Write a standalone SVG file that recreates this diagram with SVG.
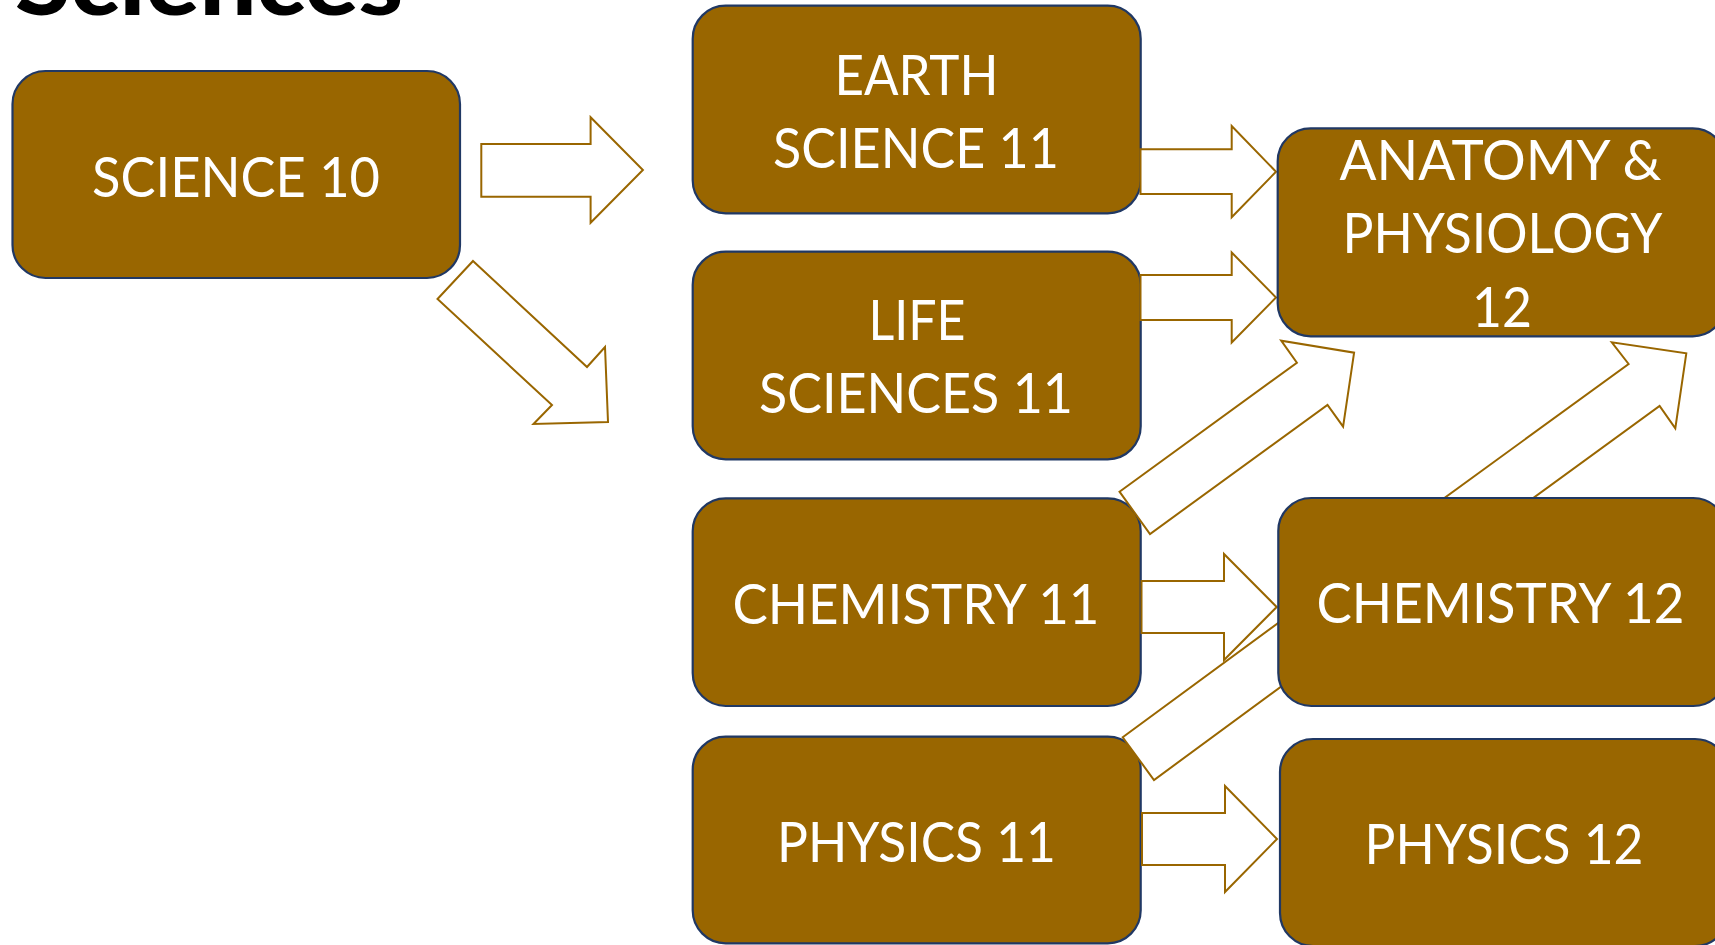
<svg xmlns="http://www.w3.org/2000/svg" width="1715" height="945" viewBox="0 0 1715 945">
<style>
.box{fill:#996600;stroke:#203864;stroke-width:2.2}
.lbl{fill:#ffffff;font-family:Lato,"Open Sans","Liberation Sans",sans-serif;font-size:56px;text-anchor:middle}
.arr{fill:#ffffff;stroke:#996600;stroke-width:2;stroke-linejoin:miter}
.title{fill:#000000;font-family:Lato,"Liberation Sans",sans-serif;font-weight:900;font-size:92px}
</style>
<rect width="1715" height="945" fill="#ffffff"/>
<text class="title" x="15" y="14.5" textLength="388" lengthAdjust="spacingAndGlyphs">Sciences</text>

<g id="science10">
<rect class="box" x="12.5" y="71" width="447.5" height="207" rx="33" ry="33"/>
<text class="lbl" x="236" y="196.7" textLength="288" lengthAdjust="spacingAndGlyphs">SCIENCE 10</text>
</g>
<g id="earth11">
<rect class="box" x="692.7" y="5.7" width="448" height="207.6" rx="33" ry="33"/>
<text class="lbl" x="916.5" y="95" textLength="164" lengthAdjust="spacingAndGlyphs">EARTH</text>
<text class="lbl" x="916" y="168" textLength="286" lengthAdjust="spacingAndGlyphs">SCIENCE 11</text>
</g>
<g id="life11">
<rect class="box" x="692.7" y="251.7" width="448" height="207.6" rx="33" ry="33"/>
<text class="lbl" x="917" y="340" textLength="97" lengthAdjust="spacingAndGlyphs">LIFE</text>
<text class="lbl" x="916" y="413.3" textLength="314" lengthAdjust="spacingAndGlyphs">SCIENCES 11</text>
</g>
<g id="chemistry11">
<rect class="box" x="692.7" y="498.3" width="448" height="207.7" rx="33" ry="33"/>
<text class="lbl" x="916" y="624" textLength="367" lengthAdjust="spacingAndGlyphs">CHEMISTRY 11</text>
</g>
<g id="physics11">
<rect class="box" x="692.7" y="736.7" width="448" height="206.6" rx="33" ry="33"/>
<text class="lbl" x="916.5" y="861.7" textLength="279" lengthAdjust="spacingAndGlyphs">PHYSICS 11</text>
</g>

<g id="connectors">
<polygon class="arr" points="481.3,144 590.6,144 590.6,117.3 642.9,170 590.6,222.7 590.6,196.7 481.3,196.7"/>
<polygon class="arr" points="473,261 587,367 605,347 608,422 533.5,424 552,405 437.5,299"/>
<polygon class="arr" points="1140.5,149.3 1231.7,149.3 1231.7,126 1276,171.7 1231.7,217.3 1231.7,194 1140.5,194"/>
<polygon class="arr" points="1140.5,275 1231.7,275 1231.7,252.5 1276,297.5 1231.7,342.5 1231.7,320 1140.5,320"/>
<polygon class="arr" points="1119.5,491.7 1296.9,362.7 1281.2,340.7 1354.1,352.7 1343.1,426.7 1327.5,405 1150,534"/>
<polygon class="arr" points="1400.4,530 1628.6,364 1611.8,342.3 1686.3,353.3 1675.3,428.3 1659.6,406 1431.4,572"/>
<polygon class="arr" points="1141.5,581 1224,581 1224,554 1276.7,607 1224,660 1224,633 1141.5,633"/>
<polygon class="arr" points="1122.7,737.3 1299.2,607.6 1283.5,586.2 1356.8,598.2 1346.2,671.8 1330.5,650.4 1154,780"/>
<polygon class="arr" points="1142,813 1225,813 1225,786 1277,839 1225,892 1225,865 1142,865"/>
</g>

<g id="anatomy12">
<rect class="box" x="1277.7" y="128.3" width="448" height="208" rx="33" ry="33"/>
<text class="lbl" x="1500.5" y="180" textLength="322" lengthAdjust="spacingAndGlyphs">ANATOMY &amp;</text>
<text class="lbl" x="1502.5" y="253.3" textLength="320" lengthAdjust="spacingAndGlyphs">PHYSIOLOGY</text>
<text class="lbl" x="1502" y="326.7" textLength="60" lengthAdjust="spacingAndGlyphs">12</text>
</g>
<g id="chemistry12">
<rect class="box" x="1278.3" y="498" width="448" height="208" rx="33" ry="33"/>
<text class="lbl" x="1500.4" y="623.3" textLength="368" lengthAdjust="spacingAndGlyphs">CHEMISTRY 12</text>
</g>
<g id="physics12">
<rect class="box" x="1280" y="739" width="448" height="207" rx="33" ry="33"/>
<text class="lbl" x="1504" y="864.3" textLength="279" lengthAdjust="spacingAndGlyphs">PHYSICS 12</text>
</g>
</svg>
